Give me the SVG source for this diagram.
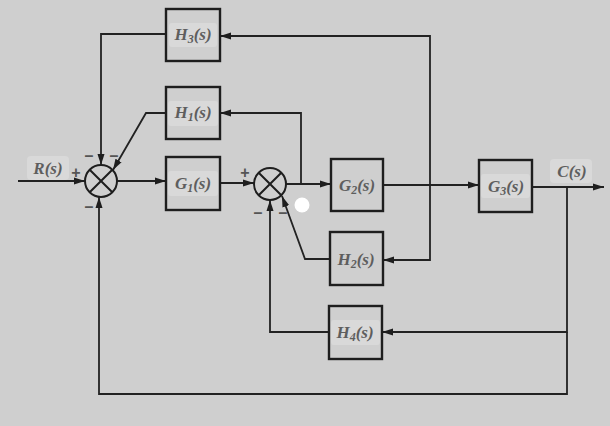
<svg xmlns="http://www.w3.org/2000/svg" width="610" height="426" viewBox="0 0 610 426">
<defs>
<marker id="ah" markerWidth="11" markerHeight="8" refX="11" refY="4" orient="auto" markerUnits="userSpaceOnUse">
<path d="M0,0.5 L11,4 L0,7.5 Z" fill="#1e1e1e"/>
</marker>
</defs>
<style>
.bg{fill:#cfcfcf}
.blk{fill:none;stroke:#1e1e1e;stroke-width:2.4}
.lbg{fill:#d9d9d9;stroke:none}
.sum{fill:none;stroke:#1e1e1e;stroke-width:2}
.ln{fill:none;stroke:#222;stroke-width:1.8}
.ar{marker-end:url(#ah)}
.t{font-family:"Liberation Serif",serif;font-weight:bold;font-style:italic;font-size:17px;fill:#5e5e5e;text-anchor:middle}
.sg{font-family:"Liberation Sans",sans-serif;font-weight:bold;font-size:16px;fill:#555;text-anchor:middle}
.sub{font-size:12px}
</style>
<rect class="bg" x="0" y="0" width="610" height="426"/>

<g id="connectors">
<path class="ln ar" d="M18,181 H85"/>
<path class="ln ar" d="M117,181 H166"/>
<path class="ln ar" d="M220,183 H254"/>
<path class="ln ar" d="M286,184 H331"/>
<path class="ln ar" d="M383,185 H479"/>
<path class="ln ar" d="M532,187 H604"/>
<path class="ln ar" d="M301,184 V113 H220"/>
<path class="ln ar" d="M166,113 H146 L113,170"/>
<path class="ln ar" d="M430,185 V36 H220"/>
<path class="ln ar" d="M430,185 V260 H383"/>
<path class="ln ar" d="M166,34 H101 V165"/>
<path class="ln ar" d="M330,259 H305 L282,196"/>
<path class="ln ar" d="M567,187 V332 H382"/>
<path class="ln ar" d="M567,332 V394 H99 V197"/>
<path class="ln ar" d="M329,332 H270 V200"/>
</g>

<g id="sum1">
<circle class="sum" cx="101" cy="181" r="16"/>
<path class="sum" d="M89.7,169.7 L112.3,192.3 M112.3,169.7 L89.7,192.3"/>
<text class="sg" x="76" y="178">+</text>
<text class="sg" x="89" y="161">–</text>
<text class="sg" x="114" y="161">–</text>
<text class="sg" x="89" y="212">–</text>
</g>
<g id="sum2">
<circle class="sum" cx="270" cy="184" r="16"/>
<path class="sum" d="M258.7,172.7 L281.3,195.3 M281.3,172.7 L258.7,195.3"/>
<text class="sg" x="245" y="178">+</text>
<text class="sg" x="258" y="218">–</text>
<text class="sg" x="283" y="218">–</text>
</g>

<g id="R">
<rect class="lbg" x="27" y="156" width="42" height="24" rx="4"/>
<text class="t" x="48" y="174">R(s)</text>
</g>
<g id="H3">
<rect class="blk" x="166" y="9" width="54" height="52"/>
<rect class="lbg" x="169" y="23" width="48" height="24" rx="3"/>
<text class="t" x="193" y="40">H<tspan class="sub" dy="3">3</tspan><tspan dy="-3">(s)</tspan></text>
</g>
<g id="H1">
<rect class="blk" x="166" y="87" width="54" height="52"/>
<rect class="lbg" x="168" y="101" width="50" height="25" rx="3"/>
<text class="t" x="193" y="118">H<tspan class="sub" dy="3">1</tspan><tspan dy="-3">(s)</tspan></text>
</g>
<g id="G1">
<rect class="blk" x="166" y="157" width="54" height="53"/>
<rect class="lbg" x="168" y="171" width="50" height="25" rx="3"/>
<text class="t" x="193" y="189">G<tspan class="sub" dy="3">1</tspan><tspan dy="-3">(s)</tspan></text>
</g>
<g id="G2">
<rect class="blk" x="331" y="159" width="52" height="52"/>
<text class="t" x="357" y="191">G<tspan class="sub" dy="3">2</tspan><tspan dy="-3">(s)</tspan></text>
</g>
<g id="H2">
<rect class="blk" x="330" y="232" width="53" height="53"/>
<text class="t" x="356" y="265">H<tspan class="sub" dy="3">2</tspan><tspan dy="-3">(s)</tspan></text>
</g>
<g id="H4">
<rect class="blk" x="329" y="306" width="53" height="53"/>
<rect class="lbg" x="331" y="320" width="49" height="25" rx="3"/>
<text class="t" x="355" y="338">H<tspan class="sub" dy="3">4</tspan><tspan dy="-3">(s)</tspan></text>
</g>
<g id="G3">
<rect class="blk" x="479" y="160" width="53" height="52"/>
<rect class="lbg" x="481" y="174" width="49" height="24" rx="3"/>
<text class="t" x="506" y="192">G<tspan class="sub" dy="3">3</tspan><tspan dy="-3">(s)</tspan></text>
</g>
<g id="C">
<rect class="lbg" x="550" y="159" width="42" height="24" rx="4"/>
<text class="t" x="572" y="177">C(s)</text>
</g>
<circle cx="302" cy="205" r="7.5" fill="#ffffff"/>
</svg>
